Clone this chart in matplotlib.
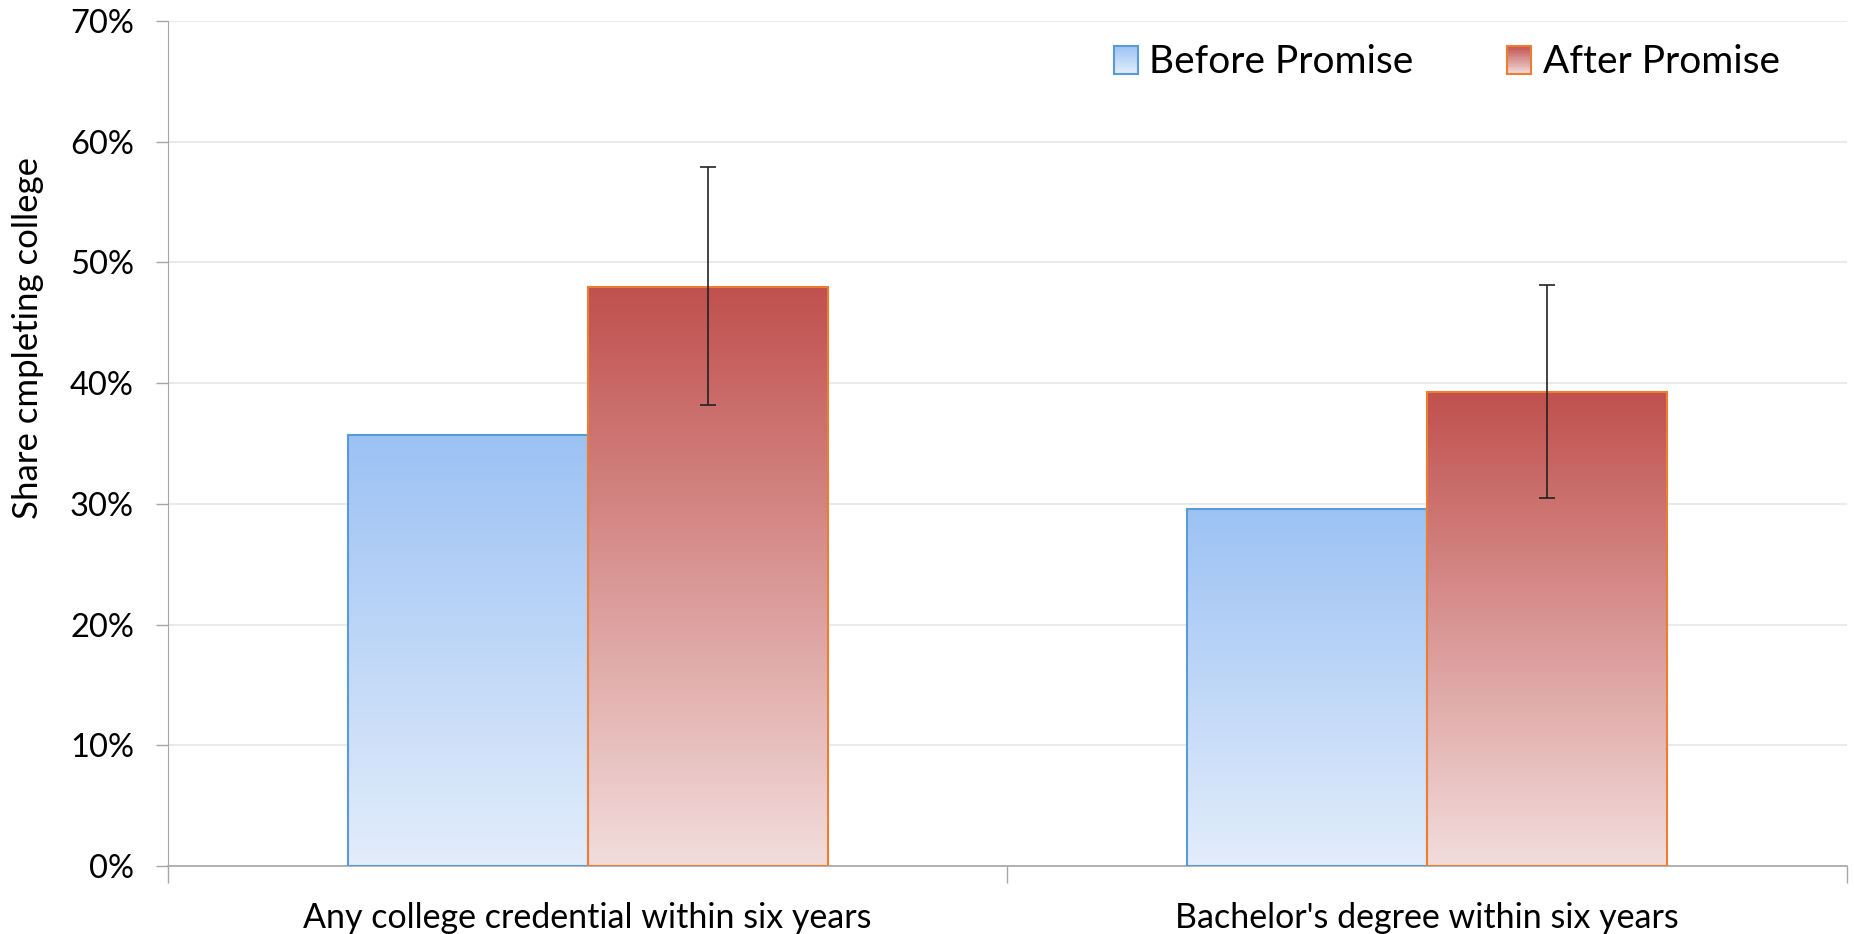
import numpy as np
import matplotlib.pyplot as plt
from matplotlib.patches import Rectangle
from matplotlib.colors import LinearSegmentedColormap
from matplotlib.legend_handler import HandlerBase

categories = ["Any college credential within six years", "Bachelor's degree within six years"]
before_promise = [35.7, 29.6]
after_promise = [48.0, 39.3]
after_err_low = [38.2, 30.5]
after_err_high = [57.9, 48.1]
series_names = ["Before Promise", "After Promise"]
yticks = [0, 10, 20, 30, 40, 50, 60, 70]

plt.rcParams['font.family'] = ['Lato', 'DejaVu Sans']

blue_cmap = LinearSegmentedColormap.from_list('b', ['#e3edfb', '#9cc2f4'])
red_cmap = LinearSegmentedColormap.from_list('r', ['#f2dddc', '#c0504d'])
blue_edge = '#5b9bd5'
red_edge = '#ed7d31'

fig = plt.figure(figsize=(18.54, 9.34), dpi=100)
ax = fig.add_axes([0.0906, 0.0728, 0.9056, 0.9047])

x = np.arange(len(categories))
w = 0.286

def gradient_bars(xpos, vals, cmap, edge):
    bars = ax.bar(xpos, vals, w, facecolor='none', edgecolor=edge, linewidth=1.5, zorder=3)
    grad = np.linspace(0, 1, 256).reshape(-1, 1)
    for b in bars:
        x0, y0 = b.get_x(), b.get_y()
        im = ax.imshow(grad, cmap=cmap, origin='lower', aspect='auto',
                       extent=[x0, x0 + b.get_width(), y0, y0 + b.get_height()], zorder=2)
        im.set_clip_path(b)
    return bars

gradient_bars(x - w / 2, before_promise, blue_cmap, blue_edge)
gradient_bars(x + w / 2, after_promise, red_cmap, red_edge)

err = [np.array(after_promise) - np.array(after_err_low),
       np.array(after_err_high) - np.array(after_promise)]
ax.errorbar(x + w / 2, after_promise, yerr=err, fmt='none', ecolor='#222222',
            elinewidth=1.2, capsize=6, capthick=1.2, zorder=4)

ax.set_xlim(-0.5, 1.5)
ax.set_ylim(0, 70)
ax.set_yticks(yticks)
ax.set_yticklabels(['{}%'.format(t) for t in yticks], fontsize=23.5)
ax.yaxis.grid(True, color='#e6e6e6', linewidth=1.2)
ax.set_axisbelow(True)

ax.set_xticks(x)
ax.set_xticklabels(categories, fontsize=24.5)
ax.tick_params(axis='x', length=0, pad=26)
ax.set_xticks([-0.5, 0.5, 1.5], minor=True)
ax.tick_params(axis='x', which='minor', length=12, color='#a6a6a6', width=1)
ax.tick_params(axis='y', length=8.5, color='#a6a6a6', width=1, pad=16)

for s in ['top', 'right']:
    ax.spines[s].set_visible(False)
ax.spines['left'].set_color('#a6a6a6')
ax.spines['bottom'].set_color('#a6a6a6')
ax.spines['bottom'].set_linewidth(1.2)

# label sits above the axis centre in the original
ax.set_ylabel('Share cmpleting college', fontsize=25)
ax.yaxis.set_label_coords(-0.074, 0.625)


class GradHandler(HandlerBase):
    def __init__(self, cmap, edge):
        super().__init__()
        self.cmap = cmap
        self.edge = edge

    def create_artists(self, legend, orig_handle, xdescent, ydescent, width, height, fontsize, trans):
        arts = []
        n = 20
        for i in range(n):
            r = Rectangle((-xdescent, -ydescent + height * i / n), width, height / n,
                          facecolor=self.cmap((i + 0.5) / n), edgecolor='none', transform=trans)
            arts.append(r)
        arts.append(Rectangle((-xdescent, -ydescent), width, height, facecolor='none',
                              edgecolor=self.edge, linewidth=1.5, transform=trans))
        return arts


h1 = Rectangle((0, 0), 1, 1)
h2 = Rectangle((0, 1), 1, 1)
ax.legend([h1, h2], series_names, loc='center right', bbox_to_anchor=(0.960, 0.951), ncol=2,
          frameon=False, fontsize=28, handlelength=0.62, handleheight=0.75, handletextpad=0.3,
          columnspacing=2.4, borderpad=0, borderaxespad=0,
          handler_map={h1: GradHandler(blue_cmap, blue_edge), h2: GradHandler(red_cmap, red_edge)})

fig.savefig('out.png', dpi=100)
